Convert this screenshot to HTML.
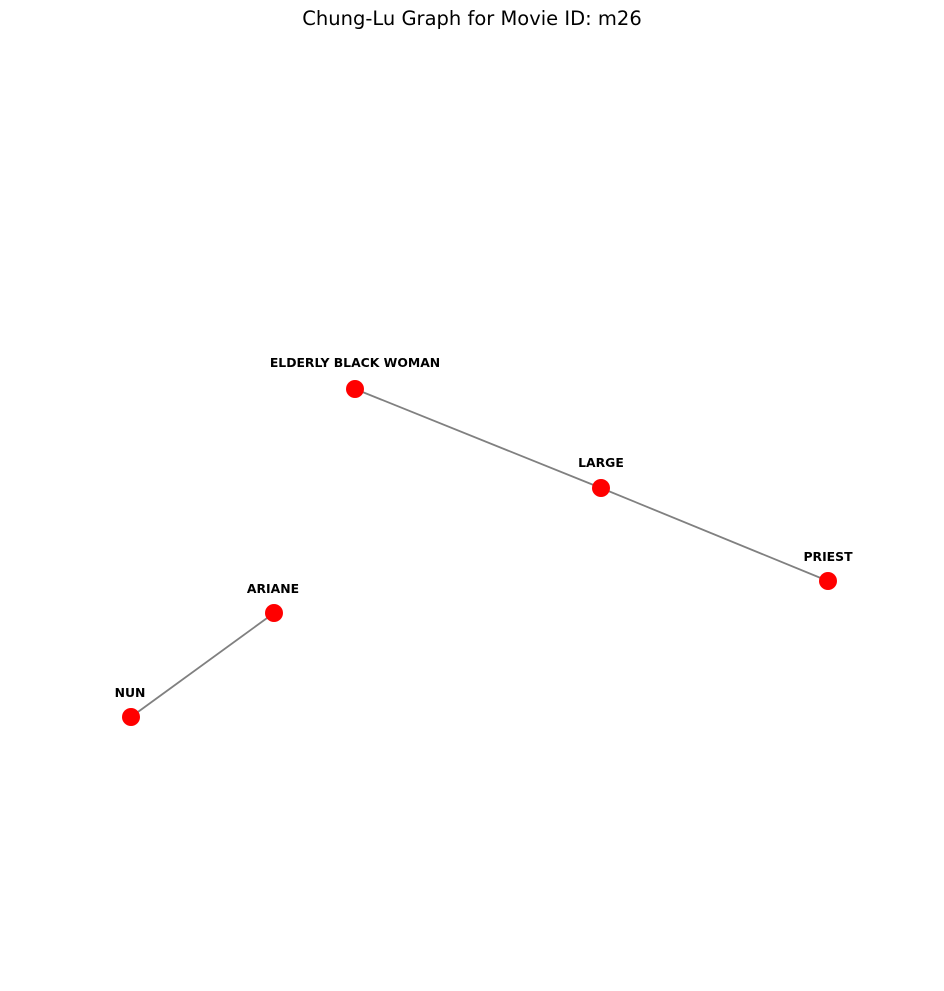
<!DOCTYPE html>
<html><head><meta charset="utf-8"><style>html,body{margin:0;padding:0;background:#fff}</style></head>
<body>
<svg width="944" height="986" viewBox="0 0 944 986" xmlns="http://www.w3.org/2000/svg">
<text x="472" y="25" text-anchor="middle" font-family="DejaVu Sans, Liberation Sans, sans-serif" font-size="19.5">Chung-Lu Graph for Movie ID: m26</text>
<g stroke="#808080" stroke-width="1.8">
<line x1="355" y1="389" x2="601" y2="488"/>
<line x1="601" y1="488" x2="828" y2="581"/>
<line x1="274" y1="613" x2="131" y2="717"/>
</g>
<g fill="#ff0000">
<circle cx="355" cy="389" r="9"/>
<circle cx="601" cy="488" r="9"/>
<circle cx="828" cy="581" r="9"/>
<circle cx="274" cy="613" r="9"/>
<circle cx="131" cy="717" r="9"/>
</g>
<g font-family="DejaVu Sans, Liberation Sans, sans-serif" font-size="12.4" font-weight="bold" text-anchor="middle">
<text x="355" y="367">ELDERLY BLACK WOMAN</text>
<text x="601" y="467">LARGE</text>
<text x="828" y="561">PRIEST</text>
<text x="273" y="593">ARIANE</text>
<text x="130" y="697">NUN</text>
</g>
</svg>
</body></html>
